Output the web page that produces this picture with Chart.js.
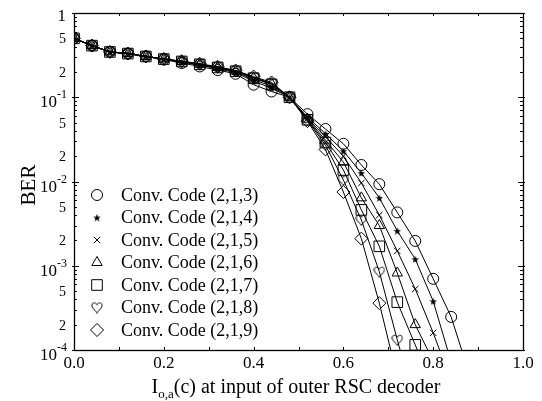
<!DOCTYPE html>
<html>
<head>
<meta charset="utf-8">
<script src="https://cdn.jsdelivr.net/npm/chart.js@4/dist/chart.umd.min.js"></script>
<style>
  body { margin: 0; background: #fff; }
</style>
</head>
<body>
<canvas id="berChart" width="542" height="401"></canvas>
<script>
// x positions of the simulated points, I_o,a(c)
const xValues = [0, 0.04, 0.08, 0.12, 0.16, 0.20, 0.24, 0.28, 0.32, 0.36, 0.40, 0.44,
                 0.48, 0.52, 0.56, 0.60, 0.64, 0.68, 0.72, 0.76, 0.80, 0.84, 0.88];

// BER per code (null = curve already left the plot)
const code213 = [0.50, 0.41, 0.345, 0.33, 0.305, 0.280, 0.255, 0.232, 0.210, 0.190, 0.141, 0.117,
                 0.100, 0.063, 0.042, 0.028, 0.0157, 0.0093, 0.0043, 0.00197, 0.0007, 0.000247, 0.000053];
const code214 = [0.50, 0.41, 0.345, 0.33, 0.305, 0.283, 0.262, 0.240, 0.218, 0.196, 0.155, 0.128,
                 0.100, 0.058, 0.037, 0.023, 0.0126, 0.0064, 0.0026, 0.0012, 0.00038, 0.000072, null];
const code215 = [0.50, 0.41, 0.345, 0.33, 0.305, 0.283, 0.264, 0.242, 0.222, 0.200, 0.162, 0.135,
                 0.100, 0.056, 0.034, 0.020, 0.0096, 0.0040, 0.0015, 0.00053, 0.00016, 0.000043, null];
const code216 = [0.50, 0.41, 0.345, 0.33, 0.305, 0.284, 0.266, 0.246, 0.226, 0.204, 0.170, 0.145,
                 0.100, 0.055, 0.031, 0.017, 0.0064, 0.0030, 0.00082, 0.00020, 0.000074, null, null];
const code217 = [0.50, 0.41, 0.345, 0.33, 0.305, 0.284, 0.266, 0.246, 0.226, 0.204, 0.168, 0.142,
                 0.100, 0.054, 0.029, 0.0137, 0.0046, 0.0017, 0.00037, 0.000115, 0.000035, null, null];
const code218 = [0.50, 0.41, 0.345, 0.33, 0.305, 0.284, 0.267, 0.248, 0.228, 0.206, 0.172, 0.146,
                 0.100, 0.053, 0.027, 0.0104, 0.0035, 0.00085, 0.000132, 0.000022, null, null, null];
const code219 = [0.50, 0.41, 0.345, 0.33, 0.305, 0.285, 0.268, 0.250, 0.230, 0.208, 0.176, 0.150,
                 0.100, 0.052, 0.024, 0.0075, 0.0021, 0.00036, 0.000048, null, null, null, null];

const seriesNames = ["Conv. Code (2,1,3)", "Conv. Code (2,1,4)", "Conv. Code (2,1,5)",
                     "Conv. Code (2,1,6)", "Conv. Code (2,1,7)", "Conv. Code (2,1,8)",
                     "Conv. Code (2,1,9)"];

const xTickValues = [0, 0.2, 0.4, 0.6, 0.8, 1.0];
const xTickLabels = ["0.0", "0.2", "0.4", "0.6", "0.8", "1.0"];
const yDecades = [1, 1e-1, 1e-2, 1e-3, 1e-4];
const yDecadeExp = ["", "-1", "-2", "-3", "-4"];
const yMinorLabeled = [5, 2];

const FONT = "'Liberation Serif', 'Times New Roman', serif";

// small filled five point star marker
function makeStar(size) {
    const c = document.createElement("canvas");
    c.width = size; c.height = size;
    const g = c.getContext("2d");
    const cx = size / 2, cy = size / 2 + 0.5;
    const R = size / 2, r = R * 0.42;
    g.beginPath();
    for (let i = 0; i < 10; i++) {
        const a = -Math.PI / 2 + i * Math.PI / 5;
        const rr = i % 2 ? r : R;
        g.lineTo(cx + rr * Math.cos(a), cy + rr * Math.sin(a));
    }
    g.closePath();
    g.fillStyle = "#000";
    g.fill();
    return c;
}

// outlined heart marker
function makeHeart(size) {
    const c = document.createElement("canvas");
    c.width = size; c.height = size;
    const g = c.getContext("2d");
    const s = size / 12;
    g.scale(s, s);
    g.beginPath();
    g.moveTo(6, 3.3);
    g.bezierCurveTo(4.6, 0.4, 0.6, 0.9, 0.9, 4.4);
    g.bezierCurveTo(1.2, 7.0, 4.6, 9.0, 6, 11.4);
    g.bezierCurveTo(7.4, 9.0, 10.8, 7.0, 11.1, 4.4);
    g.bezierCurveTo(11.4, 0.9, 7.4, 0.4, 6, 3.3);
    g.closePath();
    g.lineWidth = 1 / s;
    g.strokeStyle = "#000";
    g.stroke();
    return c;
}

const starImg = makeStar(8);
const heartImg = makeHeart(12);

const markers = [
    { style: "circle", radius: 5.5 },
    { style: starImg, radius: 4 },
    { style: "crossRot", radius: 4.5 },
    { style: "triangle", radius: 6 },
    { style: "rect", radius: 7.5 },
    { style: heartImg, radius: 6 },
    { style: "rectRot", radius: 6.5 }
];

const allSeries = [code213, code214, code215, code216, code217, code218, code219];

const datasets = allSeries.map((vals, i) => ({
    label: seriesNames[i],
    data: vals.map((v, k) => ({ x: xValues[k], y: v })),
    borderColor: "#000",
    borderWidth: 1,
    pointStyle: markers[i].style,
    pointRadius: markers[i].radius,
    pointBorderColor: "#000",
    pointBackgroundColor: "rgba(0,0,0,0)",
    pointBorderWidth: 1,
    fill: false,
    tension: 0,
    spanGaps: false
}));

// frame, inward ticks, tick labels, axis titles and the legend
const decorPlugin = {
    id: "decor",
    afterDatasetsDraw(chart) {
        const ctx = chart.ctx;
        const a = chart.chartArea;
        const xs = chart.scales.x, ys = chart.scales.y;
        ctx.save();
        ctx.strokeStyle = "#000";
        ctx.fillStyle = "#000";
        ctx.lineWidth = 1.3;
        ctx.strokeRect(a.left + 0.5, a.top + 0.5, a.right - a.left, a.bottom - a.top);
        ctx.lineWidth = 1;

        // y ticks
        ctx.beginPath();
        yDecades.forEach((d, i) => {
            const lim = i === 0 ? 1 : 9;
            for (let m = 1; m <= lim; m++) {
                const v = d * m;
                if (v > 1 || v < 1e-4) continue;
                const y = Math.round(ys.getPixelForValue(v)) + 0.5;
                const len = m === 1 ? 5 : 3;
                ctx.moveTo(a.left - (m === 1 ? 2 : 0), y); ctx.lineTo(a.left + len, y);
                ctx.moveTo(a.right - len, y); ctx.lineTo(a.right + (m === 1 ? 2 : 0), y);
            }
        });
        // x ticks every 0.1
        for (let k = 1; k < 10; k++) {
            const x = Math.round(xs.getPixelForValue(k / 10)) + 0.5;
            ctx.moveTo(x, a.bottom); ctx.lineTo(x, a.bottom - 3);
            ctx.moveTo(x, a.top); ctx.lineTo(x, a.top + 3);
        }
        ctx.stroke();

        // y labels
        ctx.textBaseline = "alphabetic";
        yDecades.forEach((d, i) => {
            const y = ys.getPixelForValue(d);
            if (i === 0) {
                ctx.font = "17px " + FONT;
                ctx.textAlign = "right";
                ctx.fillText("1", 66, y + 8);
            } else {
                ctx.font = "12px " + FONT;
                const supW = ctx.measureText(yDecadeExp[i]).width;
                ctx.textAlign = "right";
                ctx.fillText(yDecadeExp[i], 67, y + 1);
                ctx.font = "17px " + FONT;
                ctx.fillText("10", 67 - supW, y + 10);
            }
            if (i < yDecades.length - 1) {
                ctx.font = "14px " + FONT;
                ctx.textAlign = "right";
                yMinorLabeled.forEach(m => {
                    const ym = ys.getPixelForValue(d / 10 * m);
                    ctx.fillText(String(m), 66, ym + 5);
                });
            }
        });

        // x labels
        ctx.font = "17px " + FONT;
        ctx.textAlign = "center";
        xTickValues.forEach((v, i) => {
            ctx.fillText(xTickLabels[i], xs.getPixelForValue(v), 368);
        });

        // x title with subscript
        const partA = "I", partSub = "o,a", partB = "(c) at input of outer RSC decoder";
        ctx.font = "20px " + FONT;
        const wA = ctx.measureText(partA).width, wB = ctx.measureText(partB).width;
        ctx.font = "13px " + FONT;
        const wS = ctx.measureText(partSub).width;
        let tx = 296 - (wA + wS + wB) / 2;
        ctx.textAlign = "left";
        ctx.font = "20px " + FONT;
        ctx.fillText(partA, tx, 393);
        tx += wA;
        ctx.font = "13px " + FONT;
        ctx.fillText(partSub, tx, 398);
        tx += wS;
        ctx.font = "20px " + FONT;
        ctx.fillText(partB, tx, 393);

        // y title
        ctx.save();
        ctx.translate(35, 185);
        ctx.rotate(-Math.PI / 2);
        ctx.textAlign = "center";
        ctx.font = "21px " + FONT;
        ctx.fillText("BER", 0, 0);
        ctx.restore();

        // legend
        ctx.font = "18px " + FONT;
        ctx.textAlign = "left";
        ctx.textBaseline = "middle";
        seriesNames.forEach((name, i) => {
            const ly = 195 + i * 22.5;
            const opts = { pointStyle: markers[i].style, radius: markers[i].radius, borderWidth: 1, rotation: 0 };
            ctx.strokeStyle = "#000";
            ctx.fillStyle = "rgba(0,0,0,0)";
            ctx.lineWidth = 1;
            Chart.helpers.drawPoint(ctx, opts, 97, ly);
            ctx.fillStyle = "#000";
            ctx.fillText(name, 121, ly + 1);
        });
        ctx.restore();
    }
};

new Chart(document.getElementById("berChart").getContext("2d"), {
    type: "line",
    data: { datasets: datasets },
    options: {
        responsive: false,
        animation: false,
        events: [],
        layout: { padding: { left: 74, top: 13, right: 19, bottom: 51 } },
        plugins: { legend: { display: false }, tooltip: { enabled: false } },
        scales: {
            x: {
                type: "linear", min: 0, max: 1,
                ticks: { display: false }, grid: { display: false }, border: { display: false },
                afterFit: s => { s.height = 0; }
            },
            y: {
                type: "logarithmic", min: 1e-4, max: 1,
                ticks: { display: false }, grid: { display: false }, border: { display: false },
                afterFit: s => { s.width = 0; }
            }
        }
    },
    plugins: [decorPlugin]
});
</script>
</body>
</html>
